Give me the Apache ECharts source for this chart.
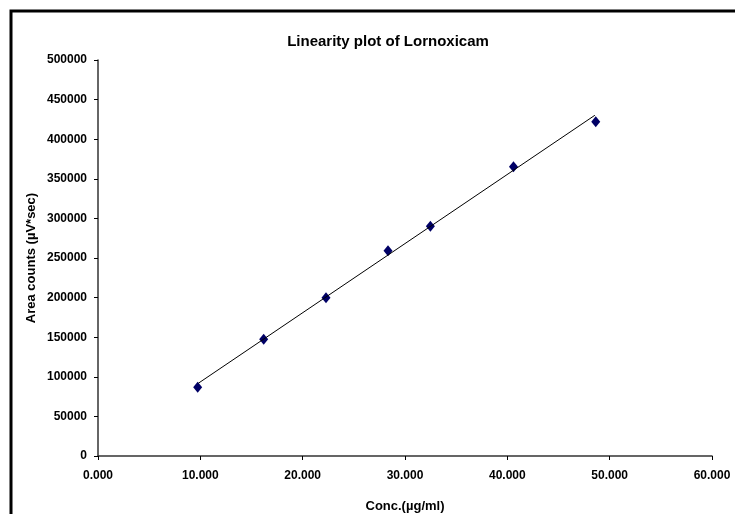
<!DOCTYPE html>
<html>
<head>
<meta charset="utf-8">
<script src="https://cdn.jsdelivr.net/npm/echarts@6/dist/echarts.min.js"></script>
<style>html,body{margin:0;padding:0;background:#fff}#c{width:735px;height:514px}</style>
</head>
<body>
<div id="c"></div>
<script>
var concX = [9.74, 16.19, 22.28, 28.34, 32.48, 40.60, 48.64];
var areaY = [86700, 147300, 199900, 259200, 290000, 365300, 422100];
var trendX = [9.80, 48.55];
var trendY = [91800, 430200];
var xTicks = ['0.000','10.000','20.000','30.000','40.000','50.000','60.000'];

var FONT = "'Liberation Sans Narrow','Arial Narrow','Liberation Sans',sans-serif";
var chart = echarts.init(document.getElementById('c'));
chart.setOption({
  backgroundColor: '#fff',
  animation: false,
  title: {
    text: 'Linearity plot of Lornoxicam',
    left: 383, top: 29, textAlign: 'center',
    textStyle: {fontFamily: FONT, fontWeight: 'bold', fontSize: 15, color: '#000'}
  },
  graphic: [{
    type: 'rect', shape: {x: 11, y: 11, width: 800, height: 600},
    style: {fill: 'none', stroke: '#000', lineWidth: 3}, z: 100
  }],
  grid: {left: 98, right: 23, top: 60, bottom: 58, outerBoundsMode: 'none', containLabel: false},
  xAxis: {
    type: 'value', min: 0, max: 60, interval: 10,
    name: 'Conc.(µg/ml)', nameLocation: 'middle', nameGap: 44,
    nameTextStyle: {fontFamily: FONT, fontWeight: 'bold', fontSize: 13, color: '#000'},
    axisLine: {lineStyle: {color: '#333', width: 1.5}},
    axisTick: {show: true, length: 4, lineStyle: {color: '#000'}},
    splitLine: {show: false},
    axisLabel: {margin: 14, fontFamily: FONT, fontWeight: 'bold', fontSize: 12, color: '#000',
      formatter: function (v) { return xTicks[Math.round(v / 10)]; }}
  },
  yAxis: {
    type: 'value', min: 0, max: 500000, interval: 50000,
    name: 'Area counts (µV*sec)', nameLocation: 'middle', nameGap: 60,
    nameMoveOverlap: false,
    nameTextStyle: {fontFamily: FONT, fontWeight: 'bold', fontSize: 13, color: '#000'},
    axisLine: {show: true, lineStyle: {color: '#333', width: 1.5}},
    axisTick: {show: true, length: 4, lineStyle: {color: '#000'}},
    splitLine: {show: false},
    axisLabel: {margin: 11, fontFamily: FONT, fontWeight: 'bold', fontSize: 12, color: '#000',
      formatter: function (v) { return String(v); }}
  },
  series: [{
    type: 'line',
    data: trendX.map(function (x, i) { return [x, trendY[i]]; }),
    showSymbol: false, symbol: 'none',
    lineStyle: {color: '#000', width: 1}
  }, {
    type: 'scatter',
    data: concX.map(function (x, i) { return [x, areaY[i]]; }),
    symbol: 'diamond', symbolSize: [9, 11],
    itemStyle: {color: '#000066', opacity: 1}
  }]
});
</script>
</body>
</html>
